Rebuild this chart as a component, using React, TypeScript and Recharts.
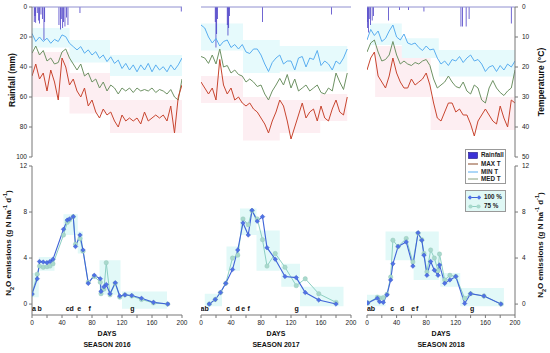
import React from "react";
import {
  ComposedChart,
  Line,
  Bar,
  Area,
  Scatter,
  XAxis,
  YAxis,
  ReferenceLine,
} from "recharts";

// temperature readings every 5 days
const TEMP_DAYS = [
  0, 5, 10, 15, 20, 25, 30, 35, 40, 45, 50, 55, 60, 65, 70, 75, 80, 85, 90, 95,
  100, 105, 110, 115, 120, 125, 130, 135, 140, 145, 150, 155, 160, 165, 170, 175,
  180, 185, 190, 195, 200,
];

// ---- season 2016 ----
const RAIN_DAYS_2016 = [3, 4, 5, 7, 9, 10, 12, 14, 16, 17, 36, 38, 39, 41, 42, 44, 46, 48, 64, 199];
const RAIN_2016 = [10, 6, 10.5, 4, 9, 11, 5, 8, 22, 10, 12, 15, 8, 14, 10, 13, 7, 12, 4, 3];
const TMIN_2016 = [8.8, 11.5, 10, 11.5, 10.4, 12.1, 10.8, 11.5, 9.3, 9.9, 12.1, 13.2, 14.3, 13.2, 15.4, 14.3, 16, 14.9, 17.1, 16, 18.2, 16.6, 18.8, 17.7, 20.5, 18.8, 21, 19.3, 21.6, 19.3, 21, 18.8, 21.6, 19.3, 21, 19.9, 21.6, 19.3, 21, 19.3, 17];
const TMED_2016 = [15.4, 13, 16, 14.5, 18, 17, 19, 18.5, 15, 14, 17, 19, 21, 19, 23, 22, 25, 24, 27, 25, 28, 26, 27, 29, 27, 28, 27, 28.5, 27, 28, 27.5, 28, 27, 28.5, 27.5, 28, 29, 27.5, 30, 31, 24];
const TMAX_2016 = [23, 19, 24, 22, 28, 21, 25, 31, 17, 20, 26, 24, 28, 30, 27, 33, 31, 35, 37, 34, 36, 35, 38, 40, 36, 38, 37, 38, 37, 39, 35, 38, 37, 36, 37, 36, 38, 33, 42, 30, 26];
const MIN_BAND_2016 = [[0, 7, 13.5], [50, 11, 18.5], [104, 16, 23], [200, 16, 23]];
const MAX_BAND_2016 = [[0, 15, 30], [50, 22, 35.5], [104, 31, 42], [200, 31, 42]];
const N2O_DAYS_2016 = [0, 7, 10, 15, 20, 24, 28, 42, 47, 50, 55, 58, 64, 68, 75, 83, 91, 92, 96, 99, 104, 111, 117, 124, 133, 146, 162, 181];
const N2O_100_2016 = [0.87, 2.2, 3.7, 3.65, 3.6, 3.7, 3.9, 6.5, 7.3, 7.4, 7.6, 5.0, 6.0, 4.7, 1.8, 2.5, 2.2, 1.1, 1.5, 1.7, 0.9, 1.85, 0.7, 0.8, 0.75, 0.5, 0.15, 0.0];
const N2O_75_2016 = [0.87, 2.6, 3.3, 3.2, 3.25, 3.3, 3.5, 6.0, 7.1, 7.3, 7.6, 5.2, 5.7, 4.6, 1.9, 2.4, 1.9, 0.9, 1.3, 3.6, 0.8, 1.8, 0.6, 0.8, 0.7, 0.4, 0.1, 0.0];
const N2O_BOX_2016 = [[0, 9, 0.6, 2.7], [9, 30, 2.9, 4.1], [42, 61, 6.0, 7.8], [61, 68, 4.4, 6.3], [90, 118, 0.8, 3.8], [120, 180, -0.4, 1.1]];
const LETTERS_2016 = ["a", "b", "c", "d", "e", "f", "g"];
const LETTER_DAYS_2016 = [2.7, 10.3, 47.5, 53, 63, 77, 133.7];

// ---- season 2017 ----
const RAIN_DAYS_2017 = [19, 20, 21, 22, 35, 36, 37, 38, 82, 174];
const RAIN_2017 = [10, 27, 18, 8, 12, 19, 14, 6, 10, 5];
const TMIN_2017 = [6, 7, 10, 12, 10.5, 13, 11.5, 11, 13.5, 12.5, 14, 12.5, 15, 15.5, 14, 14, 16, 19, 21.5, 18.5, 17, 16, 19, 18, 18, 21, 17, 16.5, 20, 17, 17.5, 14.5, 19.5, 18, 19, 21, 18, 19, 17, 14];
const TMED_2017 = [16.5, 17, 18.8, 16, 19, 14, 20, 19.5, 22, 21, 22.5, 23, 25, 24, 25, 26.5, 26, 29, 31, 28, 26, 23.8, 26, 22.5, 27, 24, 28, 27, 26, 28, 27, 26, 28.5, 29, 27, 28, 22, 25, 27.5, 22];
const TMAX_2017 = [25, 27, 29, 27, 31, 17.5, 26, 29, 27, 31, 30, 32, 33, 32, 34, 35, 37, 39, 42, 38, 35, 31, 33, 38, 44, 40, 36, 32, 37, 35, 34, 38, 33, 37, 38, 34, 31, 35, 36, 30];
const MIN_BAND_2017 = [[0, 5.5, 14.5], [56, 11, 22], [105, 13, 21.5], [195, 13, 21.5]];
const MAX_BAND_2017 = [[0, 23, 32], [56, 30, 44.5], [105, 31, 42], [159, 29, 38], [195, 29, 38]];
const N2O_DAYS_2017 = [11, 19, 26, 33, 42, 49, 56, 63, 68, 75, 82, 88, 99, 112, 127, 139, 157, 180];
const N2O_100_2017 = [0.0, 0.4, 1.0, 1.8, 3.0, 4.7, 7.05, 6.0, 8.15, 7.2, 7.6, 4.9, 3.9, 2.4, 2.3, 1.0, 0.35, 0.0];
const N2O_75_2017 = [0.0, 0.4, 1.0, 1.8, 4.0, 4.25, 7.4, 6.9, 8.1, 7.4, 5.6, 3.3, 4.4, 3.2, 1.6, 2.2, 0.9, 0.15];
const N2O_BOX_2017 = [[5, 28, -0.2, 0.9], [34, 52, 2.9, 5.0], [52, 74, 6.0, 8.3], [74, 105, 2.9, 6.4], [107, 132, 1.5, 3.5], [132, 190, -0.2, 1.5]];
const LETTERS_2017 = ["a", "b", "c", "d", "e", "f", "g"];
const LETTER_DAYS_2017 = [2, 7.5, 36.4, 49, 56.4, 63.6, 127.5];

// ---- season 2018 ----
const RAIN_DAYS_2018 = [0, 1, 2, 3, 5, 7, 9, 29, 44, 56, 77, 127, 129, 134, 138, 195];
const RAIN_2018 = [10, 14, 17, 8, 12, 9, 6, 9, 2, 2, 3, 13, 13, 13, 8, 11];
const TMIN_2018 = [11, 7.5, 9.5, 8, 11.5, 10.5, 8, 6, 10, 11, 9, 12, 12.5, 12, 13.5, 14.5, 13, 14.3, 14, 17, 19, 18, 19.5, 17.5, 18, 16.5, 18.5, 17, 16, 18, 17.5, 19, 21.5, 20, 19.5, 21.5, 19.5, 21, 19, 20, 18];
const TMED_2018 = [15, 12, 11, 15, 18, 17.5, 16, 11.5, 16, 19, 18, 19, 19.5, 18.5, 19, 18, 17.5, 19.5, 24, 27, 26, 25, 23, 25, 26.5, 27, 25, 28, 29, 26, 27, 31, 32, 27, 24.5, 27, 28.5, 29.5, 28, 27, 21];
const TMAX_2018 = [21, 17, 15, 23, 25, 27, 23, 17, 22, 25, 27, 27, 24, 26, 25, 24, 22, 26, 32, 37, 38, 35, 32, 32, 35, 34, 36, 36, 39, 43, 38, 36, 34, 36, 38, 39, 33, 37, 40, 31, 32];
const MIN_BAND_2018 = [[4, 5.5, 12.7], [47, 10.4, 17], [97, 14.3, 23.2], [200, 14.3, 23.2]];
const MAX_BAND_2018 = [[11, 13, 30], [86, 30, 41], [200, 30, 41]];
const N2O_DAYS_2018 = [1, 14, 17, 22, 27, 32, 35, 42, 53, 62, 69, 74, 77, 81, 86, 91, 96, 98, 105, 112, 120, 132, 140, 158, 181];
const N2O_100_2018 = [0.1, 0.5, 0.2, 0.15, 0.8, 2.1, 3.5, 5.0, 5.4, 3.3, 6.2, 5.55, 4.25, 2.5, 3.7, 2.95, 2.5, 3.4, 1.8, 2.1, 2.4, 0.05, 0.9, 0.7, 0.0];
const N2O_75_2018 = [0.1, 0.6, 0.5, 0.55, 0.85, 2.35, 5.55, 5.0, 5.7, 3.65, 6.15, 5.6, 4.4, 2.8, 4.7, 4.0, 2.9, 4.35, 2.1, 2.5, 2.4, 0.5, 0.9, 0.7, 0.0];
const N2O_BOX_2018 = [[0, 25, -0.2, 0.8], [25, 63, 3.8, 6.3], [63, 97, 2.1, 6.3], [99, 126, 1.5, 2.7], [126, 185, -0.2, 1.4]];
const LETTERS_2018 = ["a", "b", "c", "d", "e", "f", "g"];
const LETTER_DAYS_2018 = [2.7, 8.1, 33.9, 47.4, 62.3, 67.7, 142];

const SEASONS = [
  { title: "SEASON 2016", rainDays: RAIN_DAYS_2016, rain: RAIN_2016, tmin: TMIN_2016, tmed: TMED_2016, tmax: TMAX_2016, minBand: MIN_BAND_2016, maxBand: MAX_BAND_2016, nDays: N2O_DAYS_2016, n100: N2O_100_2016, n75: N2O_75_2016, boxes: N2O_BOX_2016, letters: LETTERS_2016, letterDays: LETTER_DAYS_2016 },
  { title: "SEASON 2017", rainDays: RAIN_DAYS_2017, rain: RAIN_2017, tmin: TMIN_2017, tmed: TMED_2017, tmax: TMAX_2017, minBand: MIN_BAND_2017, maxBand: MAX_BAND_2017, nDays: N2O_DAYS_2017, n100: N2O_100_2017, n75: N2O_75_2017, boxes: N2O_BOX_2017, letters: LETTERS_2017, letterDays: LETTER_DAYS_2017 },
  { title: "SEASON 2018", rainDays: RAIN_DAYS_2018, rain: RAIN_2018, tmin: TMIN_2018, tmed: TMED_2018, tmax: TMAX_2018, minBand: MIN_BAND_2018, maxBand: MAX_BAND_2018, nDays: N2O_DAYS_2018, n100: N2O_100_2018, n75: N2O_75_2018, boxes: N2O_BOX_2018, letters: LETTERS_2018, letterDays: LETTER_DAYS_2018 },
];

// ---- layout ----
const W = 550;
const H = 353;
const TOP_Y = [7, 157];
const BOT_Y = [166, 315];
const PANELS = [
  { x1: 32, x2: 182 },
  { x1: 201, x2: 351 },
  { x1: 367, x2: 515 },
];
const AXIS_W = 30;
const X_H = 20;
const FONT = "Arial, 'Liberation Sans', Helvetica, sans-serif";
const AXIS_COLOR = "#777";
const tickStyle = { fontSize: 6.5, fill: "#222" };

const C_RAIN = "#2a1cbc";
const C_MIN = "#5aaef0";
const C_MED = "#6e9264";
const C_MAX = "#c8452f";
const C_100 = "#3f63d8";
const C_75 = "#8ccfc2";

function buildTop(s: any) {
  const rows = new Map<number, any>();
  const row = (d: number) => {
    if (!rows.has(d)) rows.set(d, { day: d });
    return rows.get(d);
  };
  s.rainDays.forEach((d: number, i: number) => (row(d).rain = s.rain[i]));
  s.tmin.forEach((v: number, i: number) => {
    const r = row(TEMP_DAYS[i]);
    r.tmin = v;
    r.tmed = s.tmed[i];
    r.tmax = s.tmax[i];
  });
  s.minBand.forEach(([d, lo, hi]: number[]) => (row(d).minBand = [lo, hi]));
  s.maxBand.forEach(([d, lo, hi]: number[]) => (row(d).maxBand = [lo, hi]));
  return [...rows.values()].sort((a, b) => a.day - b.day);
}

function buildBoxes(boxes: number[][]) {
  const out: any[] = [];
  boxes.forEach(([a, b, lo, hi]) => {
    out.push({ day: a, box: [lo, hi] }, { day: b, box: [lo, hi] }, { day: b, box: null });
  });
  return out;
}

const diamond = (p: any) => {
  const { cx, cy, index } = p;
  if (cx == null || cy == null) return <g key={`dm-${index}`} />;
  return (
    <path
      key={`dm-${index}`}
      d={`M${cx},${cy - 2.3}L${cx + 2.3},${cy}L${cx},${cy + 2.3}L${cx - 2.3},${cy}Z`}
      fill="#4f72e6"
      stroke="#3550c0"
      strokeWidth={0.4}
    />
  );
};

const circle = (p: any) => {
  const { cx, cy, index } = p;
  if (cx == null || cy == null) return <g key={`ci-${index}`} />;
  return <circle key={`ci-${index}`} cx={cx} cy={cy} r={2.2} fill="#a8d9cc" stroke="#93c5b8" strokeWidth={0.4} />;
};

const letterShape = (p: any) => (
  <text x={p.cx} y={p.cy} textAnchor="middle" dominantBaseline="central" fontSize={7} fontWeight="bold" fill="#111">
    {p.payload.label}
  </text>
);

const layer: React.CSSProperties = { position: "absolute", left: 0, top: 0 };

function TopPanel({ idx }: { idx: number }) {
  const s = SEASONS[idx];
  const p = PANELS[idx];
  const showLeft = idx === 0;
  const showRight = idx === 2;
  const data = buildTop(s);
  return (
    <div style={layer}>
      <ComposedChart
        width={W}
        height={H}
        data={data}
        margin={{
          top: TOP_Y[0],
          bottom: H - TOP_Y[1],
          left: showLeft ? p.x1 - AXIS_W : p.x1,
          right: showRight ? W - p.x2 - AXIS_W : W - p.x2,
        }}
      >
        <XAxis dataKey="day" type="number" domain={[0, 200]} hide allowDataOverflow />
        <YAxis
          yAxisId="rain"
          domain={[0, 100]}
          reversed
          ticks={[0, 20, 40, 60, 80, 100]}
          interval={0}
          hide={!showLeft}
          width={AXIS_W}
          tickSize={3}
          tickMargin={2}
          tick={tickStyle}
          axisLine={{ stroke: AXIS_COLOR }}
          tickLine={{ stroke: AXIS_COLOR }}
        />
        <YAxis
          yAxisId="temp"
          orientation="right"
          domain={[0, 50]}
          reversed
          ticks={[0, 10, 20, 30, 40, 50]}
          interval={0}
          hide={!showRight}
          width={AXIS_W}
          tickSize={3}
          tickMargin={4}
          tick={tickStyle}
          axisLine={{ stroke: AXIS_COLOR }}
          tickLine={{ stroke: AXIS_COLOR }}
        />
        <Area yAxisId="temp" dataKey="maxBand" type="stepAfter" connectNulls fill="#fdeef2" fillOpacity={1} stroke="none" dot={false} activeDot={false} isAnimationActive={false} />
        <Area yAxisId="temp" dataKey="minBand" type="stepAfter" connectNulls fill="#e6fafc" fillOpacity={1} stroke="none" dot={false} activeDot={false} isAnimationActive={false} />
        <ReferenceLine yAxisId="rain" y={0} stroke="#9090d0" />
        <Bar yAxisId="rain" dataKey="rain" barSize={2.5} fill={C_RAIN} isAnimationActive={false} />
        <Line yAxisId="temp" dataKey="tmin" stroke={C_MIN} strokeWidth={1} dot={false} connectNulls isAnimationActive={false} />
        <Line yAxisId="temp" dataKey="tmed" stroke={C_MED} strokeWidth={1} dot={false} connectNulls isAnimationActive={false} />
        <Line yAxisId="temp" dataKey="tmax" stroke={C_MAX} strokeWidth={1} dot={false} connectNulls isAnimationActive={false} />
      </ComposedChart>
    </div>
  );
}

function BoxPanel({ idx }: { idx: number }) {
  const s = SEASONS[idx];
  const p = PANELS[idx];
  return (
    <div style={layer}>
      <ComposedChart
        width={W}
        height={H}
        data={buildBoxes(s.boxes)}
        margin={{ top: BOT_Y[0], bottom: H - BOT_Y[1], left: p.x1, right: W - p.x2 }}
      >
        <XAxis dataKey="day" type="number" domain={[0, 200]} hide allowDataOverflow />
        <YAxis domain={[-0.95, 12]} hide allowDataOverflow />
        <Area dataKey="box" type="linear" fill="#e2f9f8" fillOpacity={1} stroke="none" dot={false} activeDot={false} isAnimationActive={false} />
      </ComposedChart>
    </div>
  );
}

function BottomPanel({ idx }: { idx: number }) {
  const s = SEASONS[idx];
  const p = PANELS[idx];
  const showLeft = idx === 0;
  const showRight = idx === 2;
  const data = s.nDays.map((d: number, i: number) => ({ day: d, full: s.n100[i], reduced: s.n75[i] }));
  const letters = s.letterDays.map((d: number, i: number) => ({ day: d, ly: -0.35, label: s.letters[i] }));
  return (
    <div style={layer}>
      <ComposedChart
        width={W}
        height={H}
        data={data}
        margin={{
          top: BOT_Y[0],
          bottom: H - BOT_Y[1] - X_H,
          left: showLeft ? p.x1 - AXIS_W : p.x1,
          right: showRight ? W - p.x2 - AXIS_W : W - p.x2,
        }}
      >
        <XAxis
          dataKey="day"
          type="number"
          domain={[0, 200]}
          ticks={[0, 20, 40, 60, 80, 100, 120, 140, 160, 180, 200]}
          interval={0}
          tickFormatter={(v: number) => (v % 40 === 0 ? String(v) : "")}
          height={X_H}
          tickSize={3}
          tickMargin={2}
          tick={tickStyle}
          axisLine={{ stroke: AXIS_COLOR }}
          tickLine={{ stroke: AXIS_COLOR }}
          allowDataOverflow
        />
        <YAxis
          dataKey="ly"
          domain={[-0.95, 12]}
          ticks={[0, 4, 8, 12]}
          interval={0}
          orientation={showRight ? "right" : "left"}
          hide={!showLeft && !showRight}
          width={AXIS_W}
          tickSize={3}
          tickMargin={showRight ? 4 : 2}
          tick={tickStyle}
          axisLine={{ stroke: AXIS_COLOR }}
          tickLine={{ stroke: AXIS_COLOR }}
          allowDataOverflow
        />
        <Line dataKey="reduced" stroke={C_75} strokeWidth={1} dot={circle} activeDot={false} isAnimationActive={false} />
        <Line dataKey="full" stroke={C_100} strokeWidth={1.1} dot={diamond} activeDot={false} isAnimationActive={false} />
        <Scatter data={letters} shape={letterShape} isAnimationActive={false} />
      </ComposedChart>
    </div>
  );
}

const Rot = ({ x, y, size, children }: any) => (
  <div
    style={{
      position: "absolute",
      left: x,
      top: y,
      transform: "translate(-50%, -50%) rotate(-90deg)",
      whiteSpace: "nowrap",
      fontWeight: "bold",
      fontSize: size,
      color: "#111",
      lineHeight: 1,
    }}
  >
    {children}
  </div>
);

const Center = ({ x, y, children }: any) => (
  <div
    style={{
      position: "absolute",
      left: x,
      top: y,
      transform: "translate(-50%, -50%)",
      whiteSpace: "nowrap",
      fontWeight: "bold",
      fontSize: 7,
      color: "#111",
      lineHeight: 1,
    }}
  >
    {children}
  </div>
);

const N2OLabel = () => (
  <span>
    N<sub style={{ fontSize: "0.7em" }}>2</sub>O emissions (g N ha<sup style={{ fontSize: "0.7em" }}>-1</sup> d
    <sup style={{ fontSize: "0.7em" }}>-1</sup>)
  </span>
);

const legendRow: React.CSSProperties = {
  position: "absolute",
  left: 2,
  display: "flex",
  alignItems: "center",
  fontSize: 6.3,
  fontWeight: "bold",
  color: "#222",
  lineHeight: 1,
  whiteSpace: "nowrap",
};

function Legend() {
  const lineRow = (top: number, color: string, label: string) => (
    <div style={{ ...legendRow, top }}>
      <svg width={10} height={6} style={{ marginRight: 3 }}>
        <line x1={0} y1={3} x2={10} y2={3} stroke={color} strokeWidth={1} />
      </svg>
      {label}
    </div>
  );
  return (
    <>
      <div
        style={{
          position: "absolute",
          left: 465,
          top: 149,
          width: 41,
          height: 35,
          border: "1px solid #999",
          background: "#fff",
          boxSizing: "border-box",
        }}
      >
        <div style={{ ...legendRow, top: 2 }}>
          <svg width={10} height={7} style={{ marginRight: 3 }}>
            <rect x={0.5} y={0.5} width={9} height={6} fill="#3b30d6" stroke="#1c1280" strokeWidth={0.6} />
          </svg>
          Rainfall
        </div>
        {lineRow(10.5, "#8a4a2a", "MAX T")}
        {lineRow(18.5, C_MIN, "MIN T")}
        {lineRow(26, "#8aa27e", "MED T")}
      </div>
      <div
        style={{
          position: "absolute",
          left: 465,
          top: 190,
          width: 41,
          height: 22,
          border: "1px solid #999",
          background: "#e0f8f5",
          boxSizing: "border-box",
        }}
      >
        <div style={{ ...legendRow, top: 3 }}>
          <svg width={13} height={7} style={{ marginRight: 3 }}>
            <line x1={2} y1={3.5} x2={11} y2={3.5} stroke={C_100} strokeWidth={1} />
            <path d="M2,1.3L4.2,3.5L2,5.7L-0.2,3.5Z" fill="#4f72e6" />
            <path d="M11,1.3L13.2,3.5L11,5.7L8.8,3.5Z" fill="#4f72e6" />
          </svg>
          100 %
        </div>
        <div style={{ ...legendRow, top: 12 }}>
          <svg width={13} height={7} style={{ marginRight: 3 }}>
            <line x1={2} y1={3.5} x2={11} y2={3.5} stroke={C_75} strokeWidth={1} />
            <circle cx={2.5} cy={3.5} r={2.1} fill="#a8d9cc" />
            <circle cx={10.5} cy={3.5} r={2.1} fill="#a8d9cc" />
          </svg>
          75 %
        </div>
      </div>
    </>
  );
}

export default function App() {
  return (
    <div
      style={{
        position: "absolute",
        left: 0,
        top: 0,
        width: W,
        height: H,
        background: "#fff",
        fontFamily: FONT,
        overflow: "hidden",
      }}
    >
      {[0, 1, 2].map((i) => (
        <BoxPanel key={`box-${i}`} idx={i} />
      ))}
      {[0, 1, 2].map((i) => (
        <TopPanel key={`top-${i}`} idx={i} />
      ))}
      {[0, 1, 2].map((i) => (
        <BottomPanel key={`bot-${i}`} idx={i} />
      ))}

      <Rot x={12} y={80} size={8.5}>Rainfall (mm)</Rot>
      <Rot x={541} y={82} size={8.5}>Temperature (°C)</Rot>
      <Rot x={9} y={243} size={8}>
        <N2OLabel />
      </Rot>
      <Rot x={541} y={245} size={8}>
        <N2OLabel />
      </Rot>

      {SEASONS.map((s, i) => (
        <React.Fragment key={s.title}>
          <Center x={(PANELS[i].x1 + PANELS[i].x2) / 2} y={333}>DAYS</Center>
          <Center x={(PANELS[i].x1 + PANELS[i].x2) / 2} y={344}>{s.title}</Center>
        </React.Fragment>
      ))}

      <Legend />
    </div>
  );
}
